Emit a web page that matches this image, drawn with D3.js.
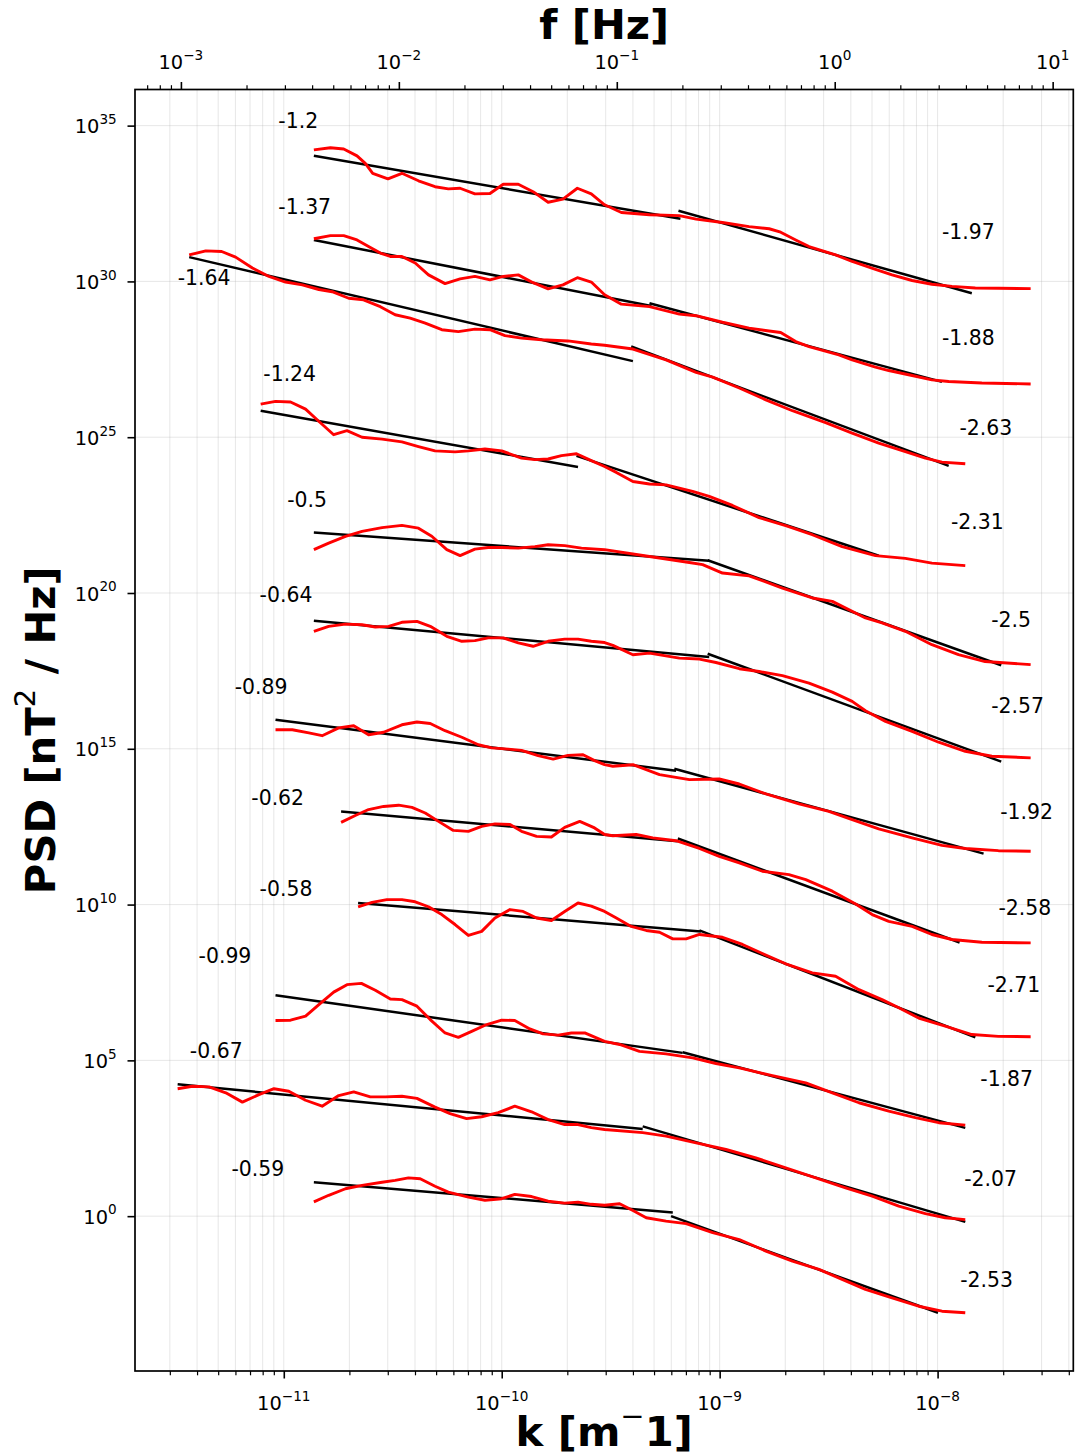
<!DOCTYPE html>
<html>
<head>
<meta charset="utf-8">
<script src="https://cdn.jsdelivr.net/npm/d3@7"></script>
<style>
body { margin: 0; background: #fff; }
svg { display: block; }
text { font-family: "DejaVu Sans", sans-serif; }
</style>
</head>
<body>
<svg id="chart" width="1084" height="1456"></svg>
<script>
// every spectrum: [log10 k (m^-1), log10 PSD (nT^2/Hz)]
const s01 = [[-10.862,34.22],[-10.786,34.29],[-10.725,34.25],[-10.664,34.03],[-10.626,33.79],[-10.592,33.47],[-10.522,33.29],[-10.458,33.47],[-10.382,33.23],[-10.306,33.04],[-10.245,32.97],[-10.191,32.99],[-10.123,32.81],[-10.054,32.82],[-9.993,33.12],[-9.924,33.12],[-9.856,32.88],[-9.787,32.54],[-9.719,32.64],[-9.653,32.99],[-9.589,32.81],[-9.528,32.46],[-9.451,32.21],[-9.322,32.14],[-9.185,32.11],[-9.108,32.00],[-8.987,31.89],[-8.865,31.76],[-8.773,31.69],[-8.720,31.58],[-8.651,31.33],[-8.590,31.12],[-8.468,30.85],[-8.392,30.64],[-8.285,30.39],[-8.209,30.21],[-8.117,30.03],[-8.026,29.91],[-7.934,29.84],[-7.827,29.79],[-7.721,29.78],[-7.573,29.77]];
const s02 = [[-10.862,31.37],[-10.786,31.47],[-10.725,31.47],[-10.664,31.33],[-10.611,31.12],[-10.557,30.91],[-10.511,30.80],[-10.458,30.80],[-10.397,30.59],[-10.336,30.21],[-10.260,29.93],[-10.191,30.08],[-10.123,30.16],[-10.054,30.05],[-9.993,30.16],[-9.924,30.21],[-9.856,29.96],[-9.787,29.76],[-9.719,29.89],[-9.653,30.12],[-9.589,29.98],[-9.528,29.57],[-9.451,29.27],[-9.322,29.19],[-9.185,28.95],[-9.108,28.90],[-8.987,28.69],[-8.865,28.50],[-8.773,28.41],[-8.720,28.36],[-8.651,28.07],[-8.590,27.91],[-8.453,27.64],[-8.392,27.48],[-8.285,27.25],[-8.224,27.14],[-8.117,26.98],[-8.026,26.84],[-7.949,26.79],[-7.797,26.74],[-7.573,26.71]];
const s03 = [[-11.434,30.85],[-11.358,30.98],[-11.285,30.96],[-11.221,30.78],[-11.144,30.43],[-11.068,30.16],[-10.992,29.98],[-10.915,29.89],[-10.839,29.74],[-10.778,29.67],[-10.702,29.46],[-10.634,29.41],[-10.557,29.19],[-10.489,28.93],[-10.420,28.82],[-10.351,28.66],[-10.275,28.45],[-10.199,28.39],[-10.123,28.47],[-10.054,28.45],[-9.985,28.26],[-9.909,28.18],[-9.817,28.13],[-9.696,28.09],[-9.589,27.99],[-9.528,27.95],[-9.398,27.83],[-9.246,27.48],[-9.108,27.08],[-9.032,26.93],[-8.910,26.58],[-8.788,26.20],[-8.666,25.85],[-8.514,25.47],[-8.392,25.13],[-8.270,24.81],[-8.148,24.54],[-8.056,24.33],[-7.980,24.20],[-7.873,24.15]];
const s04 = [[-11.106,26.06],[-11.038,26.15],[-10.969,26.13],[-10.900,25.90],[-10.847,25.56],[-10.771,25.08],[-10.710,25.21],[-10.641,25.00],[-10.549,24.94],[-10.458,24.85],[-10.382,24.70],[-10.306,24.56],[-10.214,24.53],[-10.153,24.56],[-10.077,24.62],[-10.000,24.56],[-9.909,24.33],[-9.848,24.28],[-9.787,24.30],[-9.726,24.41],[-9.657,24.47],[-9.589,24.25],[-9.528,24.06],[-9.474,23.87],[-9.398,23.58],[-9.322,23.50],[-9.246,23.47],[-9.124,23.26],[-9.048,23.10],[-8.941,22.81],[-8.819,22.42],[-8.697,22.16],[-8.575,21.87],[-8.438,21.49],[-8.285,21.20],[-8.148,21.11],[-8.026,20.96],[-7.873,20.88]];
const s05 = [[-10.862,21.39],[-10.794,21.60],[-10.717,21.82],[-10.641,21.98],[-10.549,22.10],[-10.458,22.17],[-10.382,22.08],[-10.321,21.82],[-10.252,21.39],[-10.191,21.20],[-10.123,21.41],[-10.062,21.46],[-10.000,21.46],[-9.924,21.44],[-9.848,21.49],[-9.787,21.55],[-9.711,21.52],[-9.634,21.44],[-9.528,21.39],[-9.322,21.17],[-9.139,20.98],[-9.078,20.91],[-8.987,20.64],[-8.865,20.55],[-8.712,20.16],[-8.575,19.84],[-8.483,19.73],[-8.331,19.20],[-8.255,19.04],[-8.148,18.77],[-8.026,18.34],[-7.904,18.02],[-7.782,17.80],[-7.573,17.70]];
const s06 = [[-10.862,18.77],[-10.794,18.93],[-10.717,19.00],[-10.641,18.98],[-10.580,18.91],[-10.519,18.93],[-10.458,19.06],[-10.389,19.09],[-10.328,18.93],[-10.252,18.61],[-10.183,18.45],[-10.123,18.47],[-10.062,18.56],[-9.993,18.56],[-9.924,18.40],[-9.856,18.29],[-9.787,18.45],[-9.711,18.52],[-9.650,18.52],[-9.589,18.45],[-9.528,18.41],[-9.490,18.32],[-9.398,18.02],[-9.322,18.07],[-9.185,17.91],[-9.093,17.88],[-9.017,17.77],[-8.910,17.57],[-8.819,17.48],[-8.712,17.35],[-8.590,17.11],[-8.483,16.82],[-8.392,16.52],[-8.331,16.22],[-8.239,15.88],[-8.117,15.56],[-7.995,15.21],[-7.873,14.92],[-7.751,14.76],[-7.573,14.71]];
const s07 = [[-11.038,15.61],[-10.961,15.61],[-10.885,15.51],[-10.824,15.42],[-10.748,15.67],[-10.679,15.74],[-10.611,15.45],[-10.542,15.53],[-10.458,15.77],[-10.389,15.86],[-10.328,15.81],[-10.260,15.58],[-10.183,15.37],[-10.107,15.13],[-10.046,15.03],[-9.970,14.99],[-9.909,14.95],[-9.833,14.78],[-9.764,14.67],[-9.696,14.79],[-9.627,14.81],[-9.574,14.62],[-9.528,14.49],[-9.490,14.44],[-9.398,14.49],[-9.276,14.17],[-9.139,14.01],[-9.002,14.03],[-8.910,13.87],[-8.788,13.55],[-8.636,13.23],[-8.499,12.99],[-8.392,12.73],[-8.270,12.43],[-8.117,12.14],[-7.980,11.90],[-7.873,11.80],[-7.721,11.73],[-7.573,11.71]];
const s08 = [[-10.737,12.64],[-10.672,12.86],[-10.611,13.05],[-10.542,13.15],[-10.473,13.19],[-10.412,13.12],[-10.351,12.94],[-10.290,12.67],[-10.222,12.38],[-10.153,12.35],[-10.092,12.51],[-10.031,12.59],[-9.962,12.57],[-9.909,12.35],[-9.840,12.19],[-9.772,12.17],[-9.711,12.48],[-9.642,12.67],[-9.574,12.46],[-9.528,12.25],[-9.490,12.21],[-9.383,12.25],[-9.307,12.14],[-9.200,12.05],[-9.093,11.80],[-9.002,11.55],[-8.910,11.34],[-8.804,11.07],[-8.682,10.96],[-8.605,10.80],[-8.483,10.43],[-8.376,10.02],[-8.300,9.68],[-8.224,9.46],[-8.117,9.30],[-8.026,9.04],[-7.934,8.88],[-7.797,8.79],[-7.573,8.77]];
const s09 = [[-10.659,9.93],[-10.595,10.07],[-10.527,10.16],[-10.458,10.16],[-10.397,10.09],[-10.336,9.93],[-10.275,9.68],[-10.214,9.36],[-10.153,9.01],[-10.092,9.14],[-10.031,9.57],[-9.962,9.84],[-9.902,9.78],[-9.840,9.57],[-9.772,9.49],[-9.711,9.78],[-9.650,10.05],[-9.589,9.95],[-9.528,9.78],[-9.474,9.57],[-9.406,9.30],[-9.337,9.17],[-9.276,9.11],[-9.215,8.90],[-9.154,8.90],[-9.093,9.04],[-8.987,8.95],[-8.895,8.72],[-8.804,8.43],[-8.697,8.10],[-8.575,7.81],[-8.468,7.70],[-8.361,7.27],[-8.255,6.95],[-8.178,6.69],[-8.087,6.36],[-7.965,6.10],[-7.843,5.83],[-7.721,5.77],[-7.573,5.76]];
const s10 = [[-11.038,6.28],[-10.969,6.29],[-10.900,6.42],[-10.839,6.79],[-10.771,7.19],[-10.710,7.43],[-10.644,7.47],[-10.580,7.25],[-10.511,6.97],[-10.458,6.95],[-10.389,6.74],[-10.328,6.31],[-10.260,5.88],[-10.199,5.74],[-10.138,5.93],[-10.069,6.15],[-10.000,6.29],[-9.940,6.28],[-9.871,6.01],[-9.810,5.85],[-9.741,5.81],[-9.680,5.88],[-9.619,5.88],[-9.528,5.61],[-9.459,5.51],[-9.368,5.29],[-9.246,5.21],[-9.124,5.08],[-9.017,4.90],[-8.910,4.76],[-8.758,4.51],[-8.605,4.28],[-8.483,3.96],[-8.361,3.64],[-8.224,3.37],[-8.102,3.16],[-7.995,3.00],[-7.873,2.92]];
const s11 = [[-11.487,4.09],[-11.419,4.17],[-11.343,4.15],[-11.266,3.96],[-11.190,3.66],[-11.114,3.90],[-11.045,4.09],[-10.977,4.01],[-10.900,3.72],[-10.824,3.53],[-10.748,3.87],[-10.679,3.99],[-10.603,3.83],[-10.534,3.83],[-10.458,3.85],[-10.389,3.78],[-10.306,3.50],[-10.237,3.29],[-10.161,3.13],[-10.092,3.19],[-10.016,3.32],[-9.940,3.53],[-9.863,3.35],[-9.787,3.10],[-9.711,2.94],[-9.650,2.94],[-9.589,2.84],[-9.528,2.78],[-9.353,2.68],[-9.246,2.57],[-9.108,2.35],[-8.971,2.14],[-8.834,1.87],[-8.697,1.55],[-8.559,1.23],[-8.422,0.91],[-8.300,0.64],[-8.178,0.32],[-8.056,0.08],[-7.965,-0.05],[-7.873,-0.11]];
const s12 = [[-10.862,0.46],[-10.794,0.67],[-10.717,0.88],[-10.641,0.99],[-10.549,1.09],[-10.489,1.15],[-10.428,1.23],[-10.374,1.20],[-10.306,0.96],[-10.245,0.77],[-10.153,0.61],[-10.077,0.51],[-10.000,0.56],[-9.940,0.70],[-9.863,0.63],[-9.787,0.48],[-9.711,0.42],[-9.650,0.45],[-9.589,0.38],[-9.528,0.35],[-9.459,0.40],[-9.398,0.18],[-9.337,-0.05],[-9.246,-0.16],[-9.154,-0.24],[-9.032,-0.53],[-8.910,-0.75],[-8.788,-1.12],[-8.666,-1.44],[-8.544,-1.71],[-8.438,-2.03],[-8.331,-2.35],[-8.209,-2.62],[-8.087,-2.89],[-7.980,-3.05],[-7.873,-3.10]];
const spectra = [s01, s02, s03, s04, s05, s06, s07, s08, s09, s10, s11, s12];

// power-law fits: slopes, and [log10 k start, log10 k end, log10 PSD at start]
const lowSlopes = [-1.2, -1.37, -1.64, -1.24, -0.5, -0.64, -0.89, -0.62, -0.58, -0.99, -0.67, -0.59];
const highSlopes = [-1.97, -1.88, -2.63, -2.31, -2.5, -2.57, -1.92, -2.58, -2.71, -1.87, -2.07, -2.53];
const lowFits = [[-10.862,-9.180,34.03],[-10.862,-9.313,31.33],[-11.434,-9.398,30.78],[-11.106,-9.650,25.85],[-10.862,-9.048,21.94],[-10.862,-9.048,19.11],[-11.038,-9.200,15.93],[-10.737,-9.192,12.99],[-10.659,-9.086,10.05],[-11.038,-9.170,7.09],[-11.487,-9.353,4.23],[-10.862,-9.215,1.09]];
const highFits = [[-9.189,-7.843,32.27],[-9.322,-7.980,29.30],[-9.406,-7.949,27.91],[-9.657,-8.270,24.40],[-9.055,-7.708,21.05],[-9.055,-7.708,18.05],[-9.208,-7.789,14.36],[-9.192,-7.899,12.12],[-9.093,-7.827,9.17],[-9.170,-7.873,5.26],[-9.353,-7.873,2.88],[-9.223,-7.998,0.00]];
// where the slope texts are anchored: [log10 k, log10 PSD]
const lowLabelAt = [[-11.025,34.92],[-11.025,32.16],[-11.487,29.89],[-11.094,26.80],[-10.984,22.77],[-11.111,19.72],[-11.225,16.75],[-11.149,13.19],[-11.111,10.28],[-11.391,8.14],[-11.431,5.08],[-11.240,1.30]];
const highLabelAt = [[-7.980,31.36],[-7.980,27.95],[-7.900,25.08],[-7.939,22.05],[-7.754,18.92],[-7.754,16.15],[-7.713,12.75],[-7.721,9.68],[-7.771,7.19],[-7.804,4.17],[-7.878,0.96],[-7.896,-2.28]];

const yTickExp = [0, 5, 10, 15, 20, 25, 30, 35];
const kToF = 2.965e8; // f [Hz] = k [1/m] * kToF

const W = 1084, H = 1456;
const margin = {top: 89.5, right: 10.7, bottom: 85, left: 135};
const width = W - margin.left - margin.right;
const height = H - margin.top - margin.bottom;

const svg = d3.select('#chart');
svg.append('rect').attr('width', W).attr('height', H).attr('fill', '#fff');
const g = svg.append('g').attr('transform', `translate(${margin.left},${margin.top})`);

// limits like matplotlib: data range plus 5% each side (in log space)
const pad = ([a, b]) => [a - (b - a) * 0.05, b + (b - a) * 0.05];
const kExt = pad(d3.extent(spectra.flat(), d => d[0]));
const pExt = pad(d3.extent(spectra.flat(), d => d[1]));

const x = d3.scaleLog().domain(kExt.map(e => 10 ** e)).range([0, width]);
const y = d3.scaleLog().domain(pExt.map(e => 10 ** e)).range([height, 0]);
const xf = d3.scaleLog().domain(x.domain().map(k => k * kToF)).range([0, width]);

const isMajor = v => Math.abs(Math.log10(v) - Math.round(Math.log10(v))) < 1e-6;
const inside = (s) => v => v >= s.domain()[0] && v <= s.domain()[1];
const kTicks = x.ticks().filter(inside(x));
const fTicks = xf.ticks().filter(inside(xf));
const yTicks = yTickExp.map(e => 10 ** e);

// grid
const grid = g.append('g').attr('stroke', '#b0b0b0').attr('stroke-opacity', 0.3).attr('stroke-width', 1);
grid.selectAll('.gx').data(kTicks).join('line')
  .attr('x1', d => x(d)).attr('x2', d => x(d)).attr('y1', 0).attr('y2', height);
grid.selectAll('.gy').data(yTicks).join('line')
  .attr('x1', 0).attr('x2', width).attr('y1', d => y(d)).attr('y2', d => y(d));

// fits
const line = d3.line().x(d => x(10 ** d[0])).y(d => y(10 ** d[1]));
const fitPts = (f, s) => [[f[0], f[2]], [f[1], f[2] + s * (f[1] - f[0])]];
const fits = g.append('g').attr('fill', 'none').attr('stroke', '#000').attr('stroke-width', 2.5);
lowFits.forEach((f, i) => fits.append('path').attr('d', line(fitPts(f, lowSlopes[i]))));
highFits.forEach((f, i) => fits.append('path').attr('d', line(fitPts(f, highSlopes[i]))));

// spectra
g.append('g').selectAll('path').data(spectra).join('path')
  .attr('d', line).attr('fill', 'none').attr('stroke', '#ff0000')
  .attr('stroke-width', 2.9).attr('stroke-linejoin', 'round');

// slope texts
const labels = g.append('g').attr('font-size', 20.4).attr('fill', '#000');
lowLabelAt.forEach((p, i) => labels.append('text')
  .attr('x', x(10 ** p[0])).attr('y', y(10 ** p[1])).text(String(lowSlopes[i])));
highLabelAt.forEach((p, i) => labels.append('text')
  .attr('x', x(10 ** p[0])).attr('y', y(10 ** p[1])).text(String(highSlopes[i])));

// axes
function ticksOn(axisFn, scale, values, size, tr) {
  const a = g.append('g').attr('transform', tr)
    .call(axisFn(scale).tickValues(values).tickSize(size).tickFormat(''));
  a.select('.domain').remove();
  a.selectAll('.tick line').attr('stroke', '#000').attr('stroke-width', size > 5 ? 1.6 : 1.2);
  return a;
}
ticksOn(d3.axisBottom, x, kTicks.filter(isMajor), 7.5, `translate(0,${height})`);
ticksOn(d3.axisBottom, x, kTicks.filter(v => !isMajor(v)), 4.3, `translate(0,${height})`);
ticksOn(d3.axisTop, xf, fTicks.filter(isMajor), 7.5, 'translate(0,0)');
ticksOn(d3.axisTop, xf, fTicks.filter(v => !isMajor(v)), 4.3, 'translate(0,0)');
ticksOn(d3.axisLeft, y, yTicks, 7.5, 'translate(0,0)');

function powText(sel, v) {
  const e = Math.round(Math.log10(v));
  sel.append('tspan').text('10');
  sel.append('tspan').attr('dy', -9.3).attr('font-size', 13.6)
    .text(e < 0 ? '\u2212' + (-e) : String(e));
}
const tl = g.append('g').attr('font-size', 19.4).attr('fill', '#000');
kTicks.filter(isMajor).forEach(v => tl.append('text').attr('text-anchor', 'middle')
  .attr('x', x(v)).attr('y', height + 39).call(powText, v));
fTicks.filter(isMajor).forEach(v => tl.append('text').attr('text-anchor', 'middle')
  .attr('x', xf(v)).attr('y', -20.5).call(powText, v));
yTicks.forEach(v => tl.append('text').attr('text-anchor', 'end')
  .attr('x', -18.3).attr('y', y(v) + 7.6).call(powText, v));

g.append('rect').attr('width', width).attr('height', height)
  .attr('fill', 'none').attr('stroke', '#000').attr('stroke-width', 1.7);

// axis titles
svg.append('text').attr('x', margin.left + width / 2).attr('y', 39)
  .attr('text-anchor', 'middle').attr('font-size', 41.7).attr('font-weight', 'bold').text('f [Hz]');

const xt = svg.append('text').attr('x', margin.left + width / 2).attr('y', 1446)
  .attr('text-anchor', 'middle').attr('font-size', 41.7).attr('font-weight', 'bold');
xt.append('tspan').text('k [m');
xt.append('tspan').attr('dy', -20).attr('font-size', 29).attr('font-weight', 'normal').text('\u2212');
xt.append('tspan').attr('dy', 20).text('1]');

const yt = svg.append('text')
  .attr('transform', `translate(55,${margin.top + height / 2}) rotate(-90)`)
  .attr('text-anchor', 'middle').attr('font-size', 41.7).attr('font-weight', 'bold');
yt.append('tspan').text('PSD [nT');
yt.append('tspan').attr('dy', -20).attr('font-size', 29).attr('font-weight', 'normal').text('2');
yt.append('tspan').attr('dy', 20).text(' / Hz]');
</script>
</body>
</html>
